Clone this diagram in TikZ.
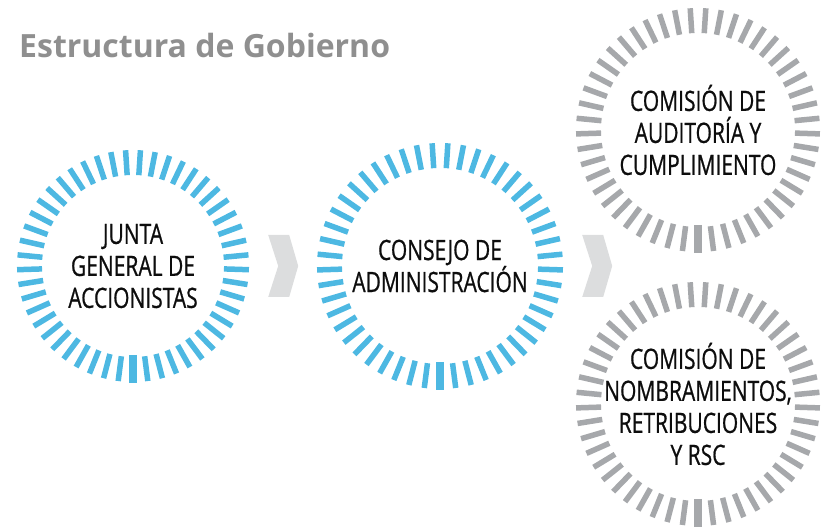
\documentclass[tikz,border=0pt]{standalone}
\usepackage{fontspec}
\setmainfont{Open Sans}
\newfontfamily\condfont[FakeStretch=0.75, FakeBold=0.7]{Open Sans}
\usepackage{xcolor}
\usepackage{tikz}
\usetikzlibrary{calc}
\usetikzlibrary{positioning}
\definecolor{ringblue}{RGB}{77,184,226}
\definecolor{ringgrey}{RGB}{166,168,171}
\definecolor{arrowgrey}{RGB}{220,221,222}
\definecolor{titlegrey}{RGB}{143,143,143}

\begin{document}
\begin{tikzpicture}[x=1pt, y=1pt,
        organ/.style={circle, inner sep=0pt, align=center, text=black!95,
            font={\condfont\fontsize{28}{32}\selectfont}},
        tickmark/.style={line width=5.5pt},
        chevron/.style={fill=arrowgrey, draw=none}
    ]
    \useasboundingbox (0,0) rectangle (821,529);

    %=== Ring Macro ===%
    \newcommand{\ring}[3]{
        \begin{scope}[shift={(#1.center)}]
            \pgfmathsetmacro{\rin}{#2-25}
            \foreach \k in {1,...,48} {
                \pgfmathsetmacro{\ang}{270+\k*7.34694}
                \draw[tickmark, #3] (\ang:\rin) -- (\ang:#2);
            }
            \draw[tickmark, #3, line width=8.5pt] (270:{\rin-2}) -- (270:{#2+1});
        \end{scope}
    }

    %=== Chevron Macro ===%
    \newcommand{\chevron}[1]{
        \fill[chevron] (#1) ++(10,0) -- ++(-10,31) -- ++(21,0) -- ++(9,-31)
            -- ++(-9,-31) -- ++(-21,0) -- cycle;
    }

    % Title
    \node[anchor=base west, inner sep=0pt, text=titlegrey,
        font={\bfseries\fontsize{32}{36}\selectfont}]
        (title) at (19,471) {Estructura de Gobierno};

    %=== Organs ===%
    \node[organ, minimum size=232pt] (junta) at (133,263)
        {JUNTA\\GENERAL DE\\ACCIONISTAS};
    \node[organ, minimum size=246pt] (consejo) at (440,263)
        {CONSEJO DE\\ADMINISTRACIÓN};
    \node[organ, minimum size=244pt] (auditoria) at (698,399)
        {COMISIÓN DE\\AUDITORÍA Y\\CUMPLIMIENTO};
    \node[organ, minimum size=244pt] (nombramientos) at (698,125)
        {COMISIÓN DE\\NOMBRAMIENTOS,\\RETRIBUCIONES\\Y RSC};

    \ring{junta}{116}{ringblue};
    \ring{consejo}{123}{ringblue};
    \ring{auditoria}{122}{ringgrey};
    \ring{nombramientos}{122}{ringgrey};

    %=== Chevrons ===%
    \chevron{$(junta.east)+(19,0)$};
    \chevron{$(consejo.east)+(19,0)$};

\end{tikzpicture}
\end{document}
